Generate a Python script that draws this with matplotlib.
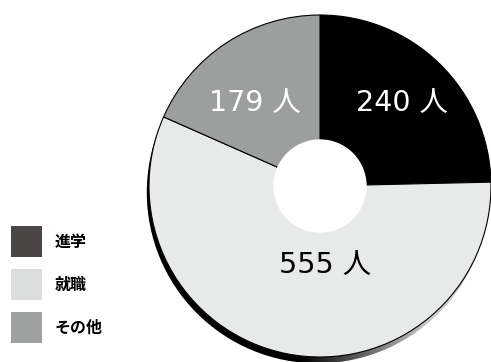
import matplotlib
matplotlib.use('Agg')
import matplotlib.pyplot as plt
from matplotlib.patches import Circle, Rectangle
import numpy as np

plt.rcParams['font.family'] = ['Noto Sans CJK JP', 'DejaVu Sans']

# 進路の内訳（人数）
labels = ['進学', '就職', 'その他']
counts = [240, 555, 179]
pie_colors = ['#000000', '#e8e9e9', '#9d9e9e']
legend_colors = ['#4a4646', '#dcdddd', '#9fa0a0']
text_colors = ['white', 'black', 'white']

W, H = 491, 362
fig = plt.figure(figsize=(W / 100, H / 100), dpi=100)

# 円の中心 (320,186) px、半径 171 px
cx, cy, r = 320, 186, 171
pad = 1.06
side = 2 * r * pad
ax = fig.add_axes([(cx - side / 2) / W, (H - cy - side / 2) / H, side / W, side / H])

# 左下の影（右へ行くほど薄い灰色になる）
sx, sy = -0.013, -0.037
shadow = Circle((sx, sy), 1.0, transform=ax.transData)
gx = np.linspace(-1.1, 1.1, 400)
shade = np.clip((gx + 0.12) / 0.76, 0, 1) * 0.8
shade = np.tile(shade, (400, 1))
img = ax.imshow(shade, cmap='gray', vmin=0, vmax=1, extent=(-1.1, 1.1, -1.1, 1.1),
                origin='lower', zorder=0)
img.set_clip_path(shadow)

wedges, _ = ax.pie(counts, colors=pie_colors, startangle=90, counterclock=False,
                   radius=1.0, wedgeprops=dict(edgecolor='black', linewidth=0.8))
for w in wedges:
    w.set_zorder(1)
ax.add_patch(Circle((0, 0), 0.273, facecolor='white', edgecolor='none', zorder=2))

ax.set_xlim(-pad, pad)
ax.set_ylim(-pad, pad)
ax.set_aspect('equal')
ax.axis('off')

# 数値ラベル
label_pos = [(0.48, 0.485), (0.03, -0.46), (-0.38, 0.485)]
for n, (x, y), c in zip(counts, label_pos, text_colors):
    ax.text(x, y, f'{n} 人', color=c, fontsize=20.5, ha='center', va='center', zorder=3,
            family=['DejaVu Sans', 'Noto Sans CJK JP'])

# 凡例
ys = [226, 269, 312]
for lab, col, y in zip(labels, legend_colors, ys):
    fig.add_artist(Rectangle((11 / W, 1 - (y + 31) / H), 31 / W, 31 / H,
                             transform=fig.transFigure, facecolor=col, edgecolor='none'))
    fig.text(55 / W, 1 - (y + 16) / H, lab, fontsize=11.5, fontweight='bold',
             ha='left', va='center')

fig.savefig('out.png', dpi=100)
